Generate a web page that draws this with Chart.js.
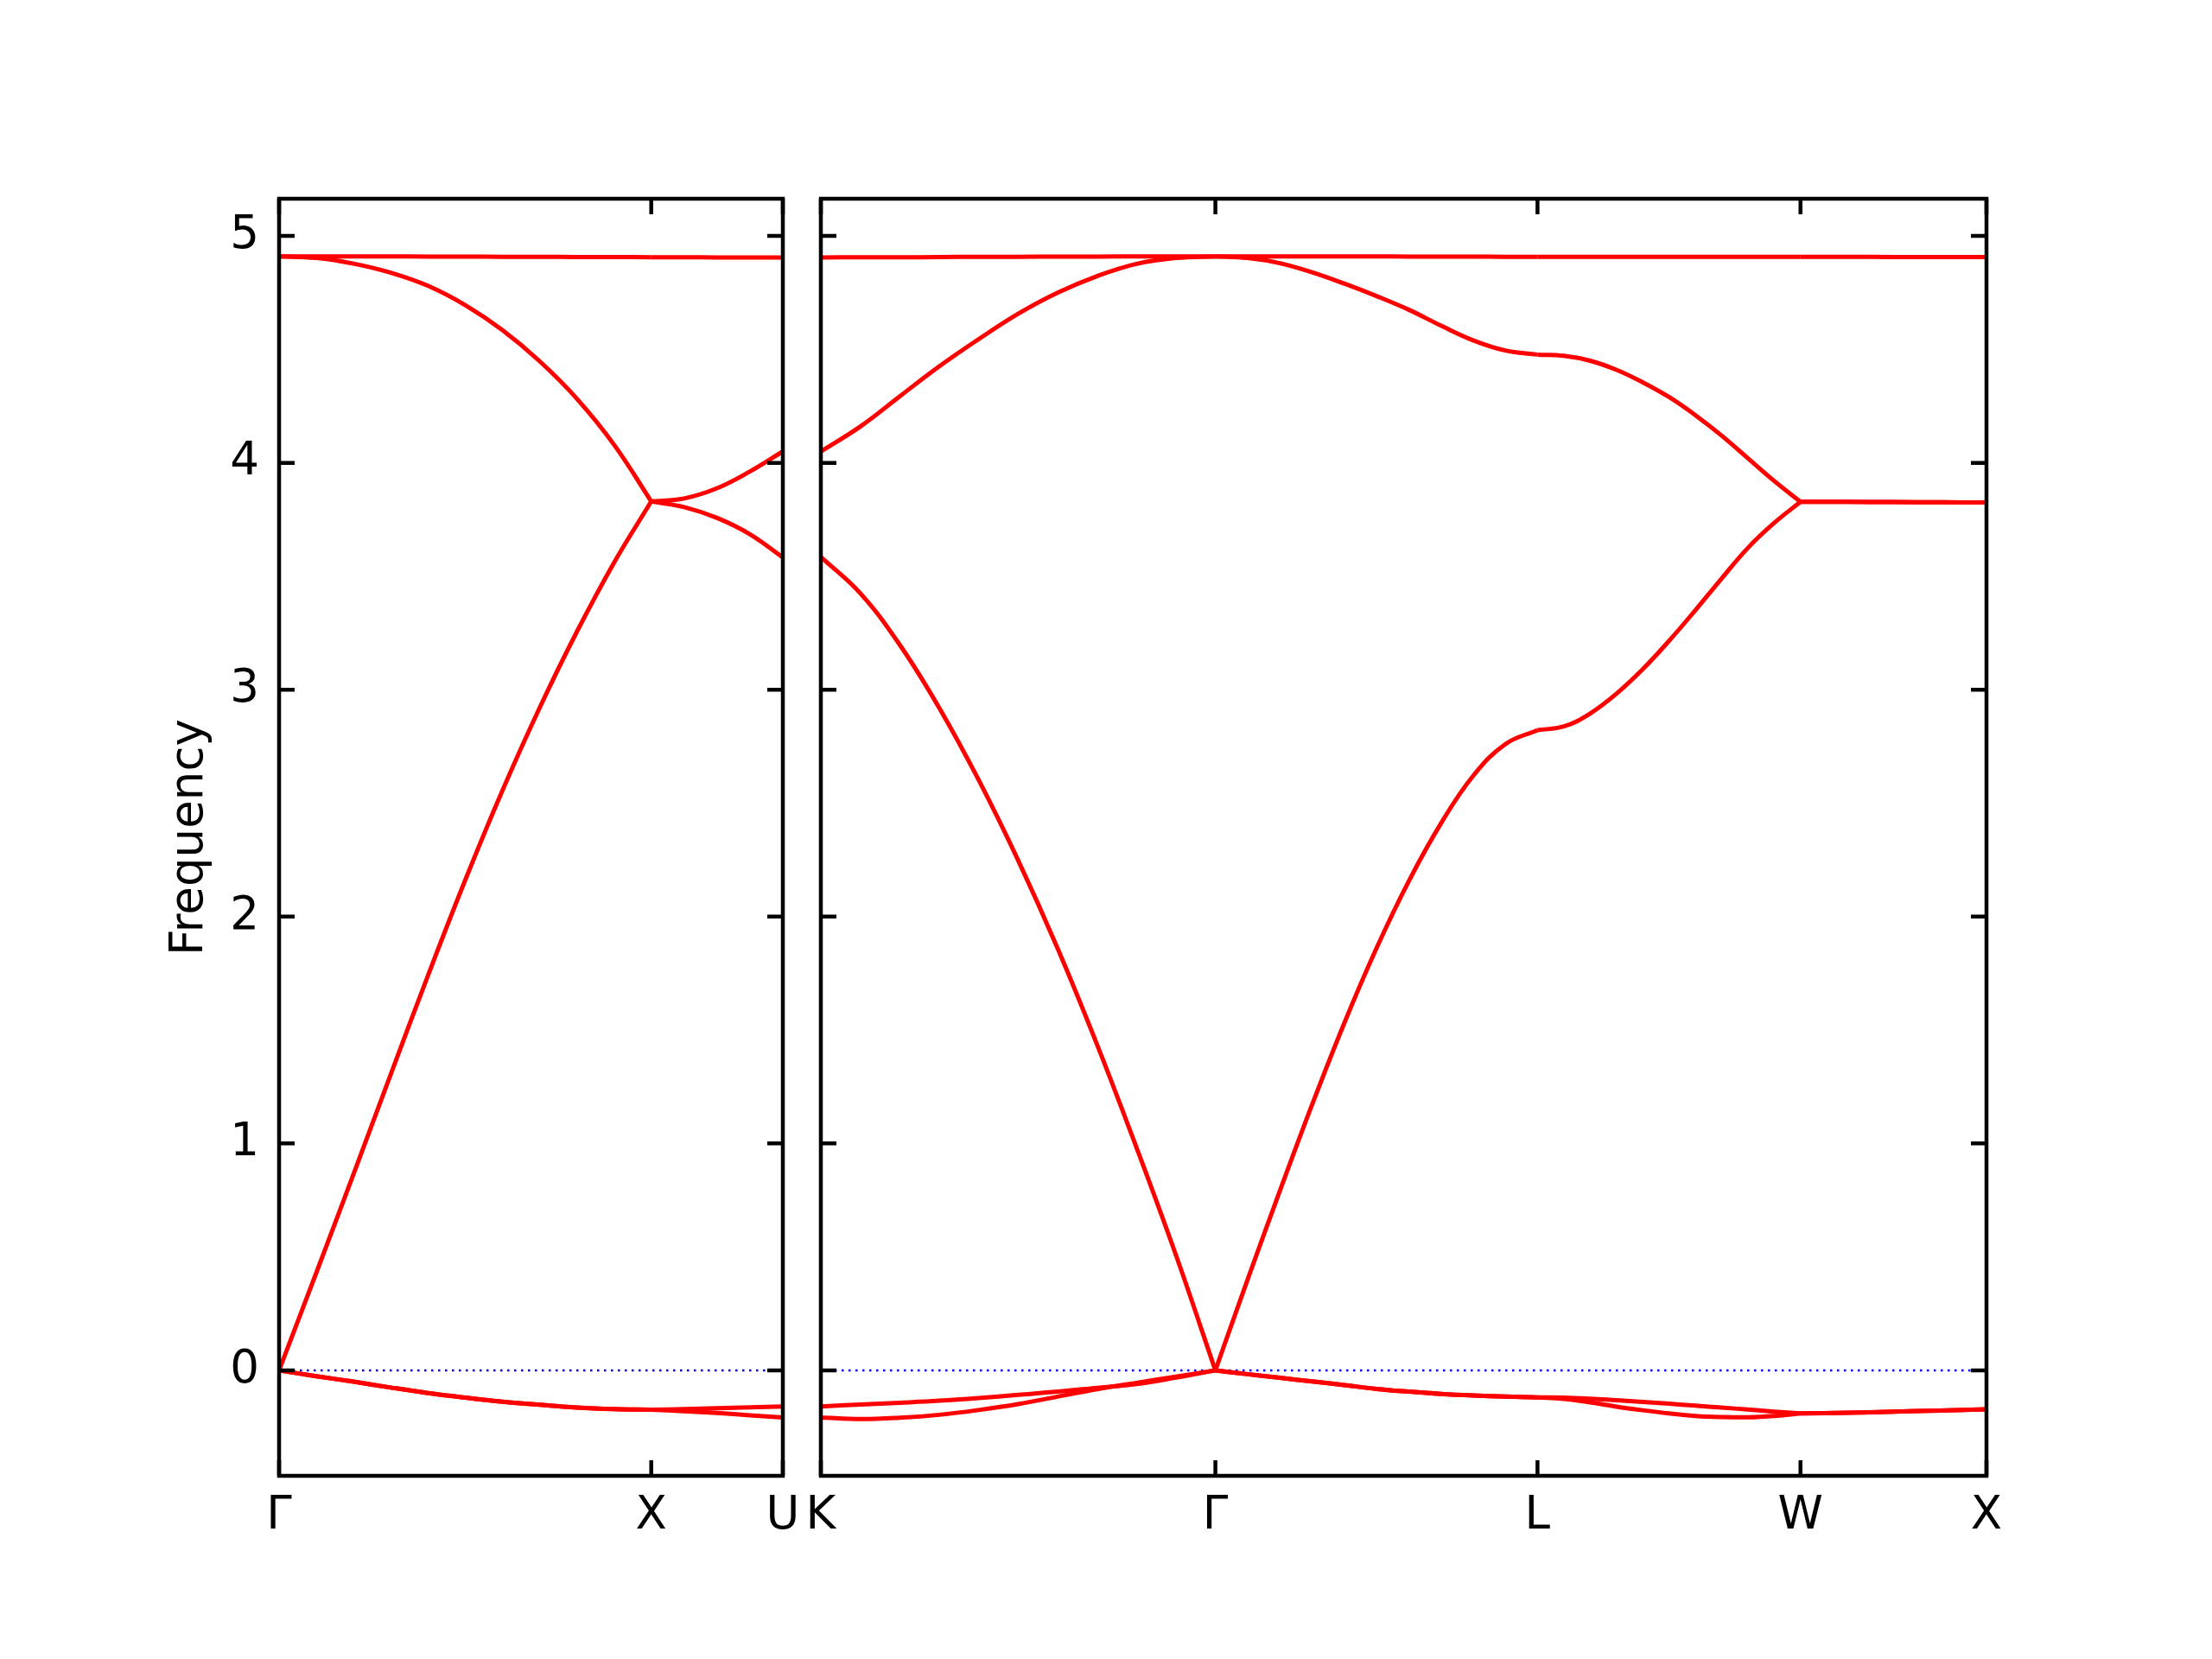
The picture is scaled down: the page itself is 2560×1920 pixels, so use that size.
<!DOCTYPE html>
<html>
<head>
<meta charset="utf-8">
<title>Phonon bands</title>
<script src="https://cdn.jsdelivr.net/npm/chart.js@4.4.0/dist/chart.umd.min.js"></script>
<style>
  html, body { margin: 0; padding: 0; background: #fff; }
  #wrap { position: relative; width: 2560px; height: 1920px; }
  canvas { position: absolute; top: 0; }
</style>
</head>
<body>
<div id="wrap">
  <canvas id="left" width="930" height="1920" style="left:0"></canvas>
  <canvas id="right" width="1640" height="1920" style="left:920px"></canvas>
</div>
<script>
// path lengths (2pi/a) and labels of the high-symmetry points
const leftLabels = ['Γ', 'X', 'U'];
const rightLabels = ['K', 'Γ', 'L', 'W', 'X'];
const leftSegLen = [1.0, 0.3536];
const rightSegLen = [1.0607, 0.8660, 0.7071, 0.5];
const yTickVals = [0, 1, 2, 3, 4, 5];
const yRange = [-0.465, 5.164];

// sample positions along a segment (fraction of segment)
const t11 = [0, 0.1, 0.2, 0.3, 0.4, 0.5, 0.6, 0.7, 0.8, 0.9, 1];
const t5 = [0, 0.25, 0.5, 0.75, 1];

// Γ–X
const gxTA  = [0, -0.026, -0.050, -0.076, -0.100, -0.120, -0.138, -0.152, -0.164, -0.171, -0.174];
const gxLA  = [0, 0.43, 0.865, 1.305, 1.74, 2.16, 2.555, 2.92, 3.255, 3.56, 3.83];
const gxOpt = [4.91, 4.903, 4.878, 4.838, 4.78, 4.695, 4.585, 4.448, 4.283, 4.08, 3.83];
const gxTop = [4.91, 4.91, 4.91, 4.91, 4.909, 4.909, 4.908, 4.908, 4.907, 4.907, 4.906];

// X–U
const xuTA1 = [-0.174, -0.171, -0.167, -0.163, -0.159];
const xuTA2 = [-0.174, -0.180, -0.188, -0.198, -0.208];
const xuLA  = [3.83, 3.805, 3.757, 3.685, 3.583];
const xuOpt = [3.83, 3.843, 3.888, 3.962, 4.05];
const xuTop = [4.906, 4.906, 4.905, 4.905, 4.905];

// K–Γ
const kgTA1 = [-0.159, -0.151, -0.143, -0.134, -0.122, -0.108, -0.094, -0.077, -0.060, -0.032, 0];
const kgTA2 = [-0.208, -0.215, -0.209, -0.196, -0.175, -0.149, -0.116, -0.083, -0.055, -0.028, 0];
const kgLA  = [3.585, 3.425, 3.198, 2.92, 2.602, 2.248, 1.86, 1.436, 0.982, 0.508, 0];
const kgOpt = [4.05, 4.16, 4.293, 4.425, 4.545, 4.657, 4.75, 4.823, 4.877, 4.903, 4.91];
const kgTop = [4.905, 4.906, 4.906, 4.907, 4.908, 4.908, 4.909, 4.909, 4.91, 4.91, 4.91];

// Γ–L
const glTA  = [0, -0.017, -0.033, -0.049, -0.065, -0.082, -0.094, -0.104, -0.111, -0.116, -0.119];
const glLA  = [0, 0.40, 0.79, 1.17, 1.53, 1.86, 2.155, 2.41, 2.62, 2.76, 2.822];
const glOpt = [4.91, 4.903, 4.88, 4.84, 4.79, 4.735, 4.675, 4.605, 4.54, 4.495, 4.477];
const glTop = [4.91, 4.91, 4.91, 4.91, 4.91, 4.91, 4.909, 4.909, 4.909, 4.908, 4.908];

// L–W
const lwTA1 = [-0.119, -0.120, -0.125, -0.132, -0.139, -0.147, -0.156, -0.164, -0.173, -0.182, -0.190];
const lwTA2 = [-0.119, -0.126, -0.141, -0.160, -0.176, -0.190, -0.201, -0.206, -0.207, -0.201, -0.190];
const lwLA  = [2.822, 2.838, 2.895, 2.982, 3.09, 3.215, 3.35, 3.49, 3.625, 3.735, 3.828];
const lwOpt = [4.477, 4.472, 4.45, 4.41, 4.355, 4.29, 4.21, 4.12, 4.02, 3.92, 3.828];
const lwTop = [4.908, 4.908, 4.908, 4.908, 4.908, 4.908, 4.908, 4.908, 4.908, 4.908, 4.908];

// W–X
const wxTA  = [-0.190, -0.187, -0.182, -0.177, -0.172];
const wxOpt = [3.828, 3.828, 3.827, 3.826, 3.825];
const wxTop = [4.908, 4.908, 4.907, 4.907, 4.907];

const leftSegs = [
  { t: t11, bands: [gxTA, gxTA, gxLA, gxOpt, gxTop] },
  { t: t5,  bands: [xuTA1, xuTA2, xuLA, xuOpt, xuTop] }
];
const rightSegs = [
  { t: t11, bands: [kgTA1, kgTA2, kgLA, kgOpt, kgTop] },
  { t: t11, bands: [glTA, glTA, glLA, glOpt, glTop] },
  { t: t11, bands: [lwTA1, lwTA2, lwLA, lwOpt, lwTop] },
  { t: t5,  bands: [wxTA, wxTA, wxOpt, wxOpt, wxTop] }
];

const FONT = { family: 'DejaVu Sans', size: 53 };
const TICK = 18;
const LINE_W = 4.5;

function cumulative(start, lens) {
  const out = [start];
  lens.forEach(l => out.push(out[out.length - 1] + l));
  return out;
}

function buildDatasets(start, lens, segs) {
  const bounds = cumulative(start, lens);
  const sets = [];
  segs.forEach((seg, s) => {
    seg.bands.forEach(band => {
      sets.push({
        data: seg.t.map((f, i) => ({ x: bounds[s] + f * lens[s], y: band[i] })),
        borderColor: '#ff0000',
        borderWidth: 5,
        pointRadius: 0,
        tension: 0.4,
        fill: false
      });
    });
  });
  // zero line, drawn under the bands
  sets.push({
    data: [{ x: bounds[0], y: 0 }, { x: bounds[bounds.length - 1], y: 0 }],
    borderColor: '#0000ff',
    borderWidth: 2.5,
    borderDash: [2.5, 5.5],
    pointRadius: 0,
    fill: false
  });
  return { sets, bounds };
}

// box and inward ticks on all four sides
const frame = {
  id: 'frame',
  afterDatasetsDraw(chart) {
    const { ctx, chartArea: a, scales: { x, y } } = chart;
    ctx.save();
    ctx.strokeStyle = '#000';
    ctx.lineWidth = LINE_W;
    ctx.beginPath();
    x.ticks.forEach(t => {
      const px = x.getPixelForValue(t.value);
      ctx.moveTo(px, a.bottom); ctx.lineTo(px, a.bottom - TICK);
      ctx.moveTo(px, a.top); ctx.lineTo(px, a.top + TICK);
    });
    y.ticks.forEach(t => {
      const py = y.getPixelForValue(t.value);
      ctx.moveTo(a.left, py); ctx.lineTo(a.left + TICK, py);
      ctx.moveTo(a.right, py); ctx.lineTo(a.right - TICK, py);
    });
    ctx.stroke();
    ctx.lineJoin = 'miter';
    ctx.strokeRect(a.left, a.top, a.right - a.left, a.bottom - a.top);
    ctx.restore();
  }
};

function makeChart(id, start, lens, segs, labels, opts) {
  const { sets, bounds } = buildDatasets(start, lens, segs);
  return new Chart(document.getElementById(id), {
    type: 'line',
    data: { datasets: sets },
    plugins: [frame],
    options: {
      responsive: false,
      animation: false,
      layout: { padding: opts.padding },
      plugins: { legend: { display: false }, tooltip: { enabled: false } },
      scales: {
        x: {
          type: 'linear',
          min: bounds[0],
          max: bounds[bounds.length - 1],
          border: { display: false },
          grid: { display: false, drawTicks: false },
          afterBuildTicks: s => { s.ticks = bounds.map(v => ({ value: v })); },
          afterFit: s => { s.height = 212; s.paddingLeft = 0; s.paddingRight = 0; },
          ticks: {
            autoSkip: false,
            maxRotation: 0,
            padding: 15,
            color: '#000',
            font: FONT,
            callback: (v, i) => labels[i]
          }
        },
        y: {
          min: yRange[0],
          max: yRange[1],
          border: { display: false },
          grid: { display: false, drawTicks: false },
          afterBuildTicks: s => { s.ticks = yTickVals.map(v => ({ value: v })); },
          afterFit: s => { s.width = opts.yWidth; s.paddingTop = 0; s.paddingBottom = 0; },
          title: {
            display: opts.showY,
            text: 'Frequency',
            color: '#000',
            font: FONT,
            padding: { top: 188, bottom: 0 }
          },
          ticks: {
            display: opts.showY,
            padding: 23,
            color: '#000',
            font: FONT,
            callback: v => String(v)
          }
        }
      }
    }
  });
}

makeChart('left', 0, leftSegLen, leftSegs, leftLabels,
  { padding: { left: 0, right: 24, top: 230, bottom: 0 }, yWidth: 323, showY: true });

const rightStart = leftSegLen.reduce((a, b) => a + b, 0);
makeChart('right', rightStart, rightSegLen, rightSegs, rightLabels,
  { padding: { left: 0, right: 261, top: 230, bottom: 0 }, yWidth: 30, showY: false });
</script>
</body>
</html>
